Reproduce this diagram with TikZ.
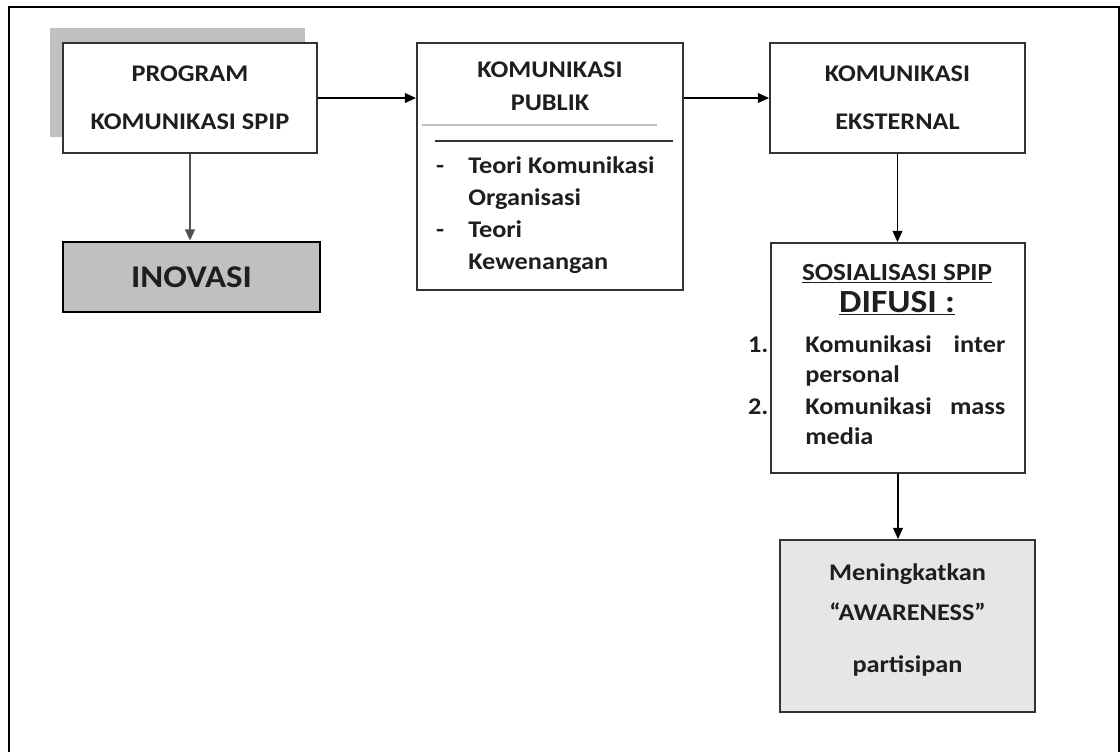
\documentclass[tikz,border=0pt]{standalone}
\usepackage{fontspec}
\setmainfont{Carlito}[FakeStretch=1.1]
\usetikzlibrary{arrows.meta, positioning, calc}
\definecolor{BoxGray}{RGB}{51,51,51}
\definecolor{ShadowGray}{RGB}{192,192,192}
\definecolor{PaleGray}{RGB}{230,230,230}
\definecolor{InkBlack}{RGB}{30,30,30}

\begin{document}
\begin{tikzpicture}[x=0.025cm, y=-0.025cm,
	font=\fontsize{17}{20}\selectfont\bfseries, text=InkBlack,
	box/.style={draw=BoxGray, line width=1.3pt, inner sep=0pt, align=center},
	arr/.style={-{Triangle[length=8pt, width=7pt]}, line width=0.9pt, black},
	txt/.style={inner sep=0pt, anchor=base west}]
	\useasboundingbox (0,0) rectangle (1120,752);
	% bingkai luar
	\draw[line width=1.4pt] (9,752) -- (9,7) -- (1119,7) -- (1119,752);
	% program dan inovasi
	\fill[ShadowGray] (50,28) rectangle (305,137);
	\node[box, fill=white, minimum width=6.35cm, minimum height=2.75cm] (prog) at (190,98)
		{PROGRAM\\[0.5cm]KOMUNIKASI SPIP};
	\node[box, fill=ShadowGray, draw=black, line width=2pt, minimum width=6.425cm,
		minimum height=1.75cm, font=\fontsize{22.5}{27}\selectfont\bfseries] (ino) at (191.5,277) {INOVASI};
	% komunikasi publik
	\node[box, minimum width=6.65cm, minimum height=6.175cm] (kp) at (550,166.5) {};
	\node[txt, anchor=base] (kpa) at (550,77) {KOMUNIKASI};
	\node[txt, anchor=base] (kpb) at (550,110) {PUBLIK};
	\draw[ShadowGray, line width=1.5pt] (422,125) -- (657,125);
	\draw[BoxGray, line width=0.8pt] (435,141) -- (673,141);
	\foreach \i/\y/\t in {0/173/{\llap{-\hspace{0.6cm}}Teori Komunikasi}, 1/205/Organisasi,
		2/237/{\llap{-\hspace{0.6cm}}Teori}, 3/269/Kewenangan}
		{\node[txt] (kpl\i) at (468,\y) {\t};}
	% komunikasi eksternal
	\node[box, fill=white, minimum width=6.375cm, minimum height=2.75cm] (ke) at (897.5,98)
		{KOMUNIKASI\\[0.5cm]EKSTERNAL};
	% sosialisasi
	\node[box, minimum width=6.35cm, minimum height=5.75cm] (sos) at (898,358) {};
	\node[txt, anchor=base, font=\fontsize{17.5}{21}\selectfont\bfseries] (sosa) at (897,280)
		{\underline{SOSIALISASI SPIP}};
	\node[txt, anchor=base, font=\fontsize{23}{28}\selectfont\bfseries] (sosb) at (897,312)
		{\underline{DIFUSI :}};
	\foreach \i/\y/\t in {0/352/{\llap{1.\hspace{0.92cm}}\makebox[5cm][l]{Komunikasi\hfill inter}},
		1/382/personal, 2/414/{\llap{2.\hspace{0.92cm}}\makebox[5cm][l]{Komunikasi\hfill mass}},
		3/444/media}
		{\node[txt] (sosl\i) at (805,\y) {\t};}
	% awareness
	\node[box, fill=PaleGray, minimum width=6.375cm, minimum height=4.3cm] (men) at (907.5,626)
		{Meningkatkan\\[0.3cm]``AWARENESS''\\[0.6cm]partisipan\rule[-0.4cm]{0pt}{0pt}};
	% panah
	\draw[arr] (prog.east) -- (prog.east -| kp.west);
	\draw[arr] (kp.east |- ke.west) -- (ke.west);
	\draw[arr, draw=BoxGray!85, line width=1.3pt] (prog.south) -- (prog.south |- ino.north);
	\draw[arr] (ke.south) -- (ke.south |- sos.north);
	\draw[arr] (sos.south) -- (sos.south |- men.north);
\end{tikzpicture}
\end{document}
